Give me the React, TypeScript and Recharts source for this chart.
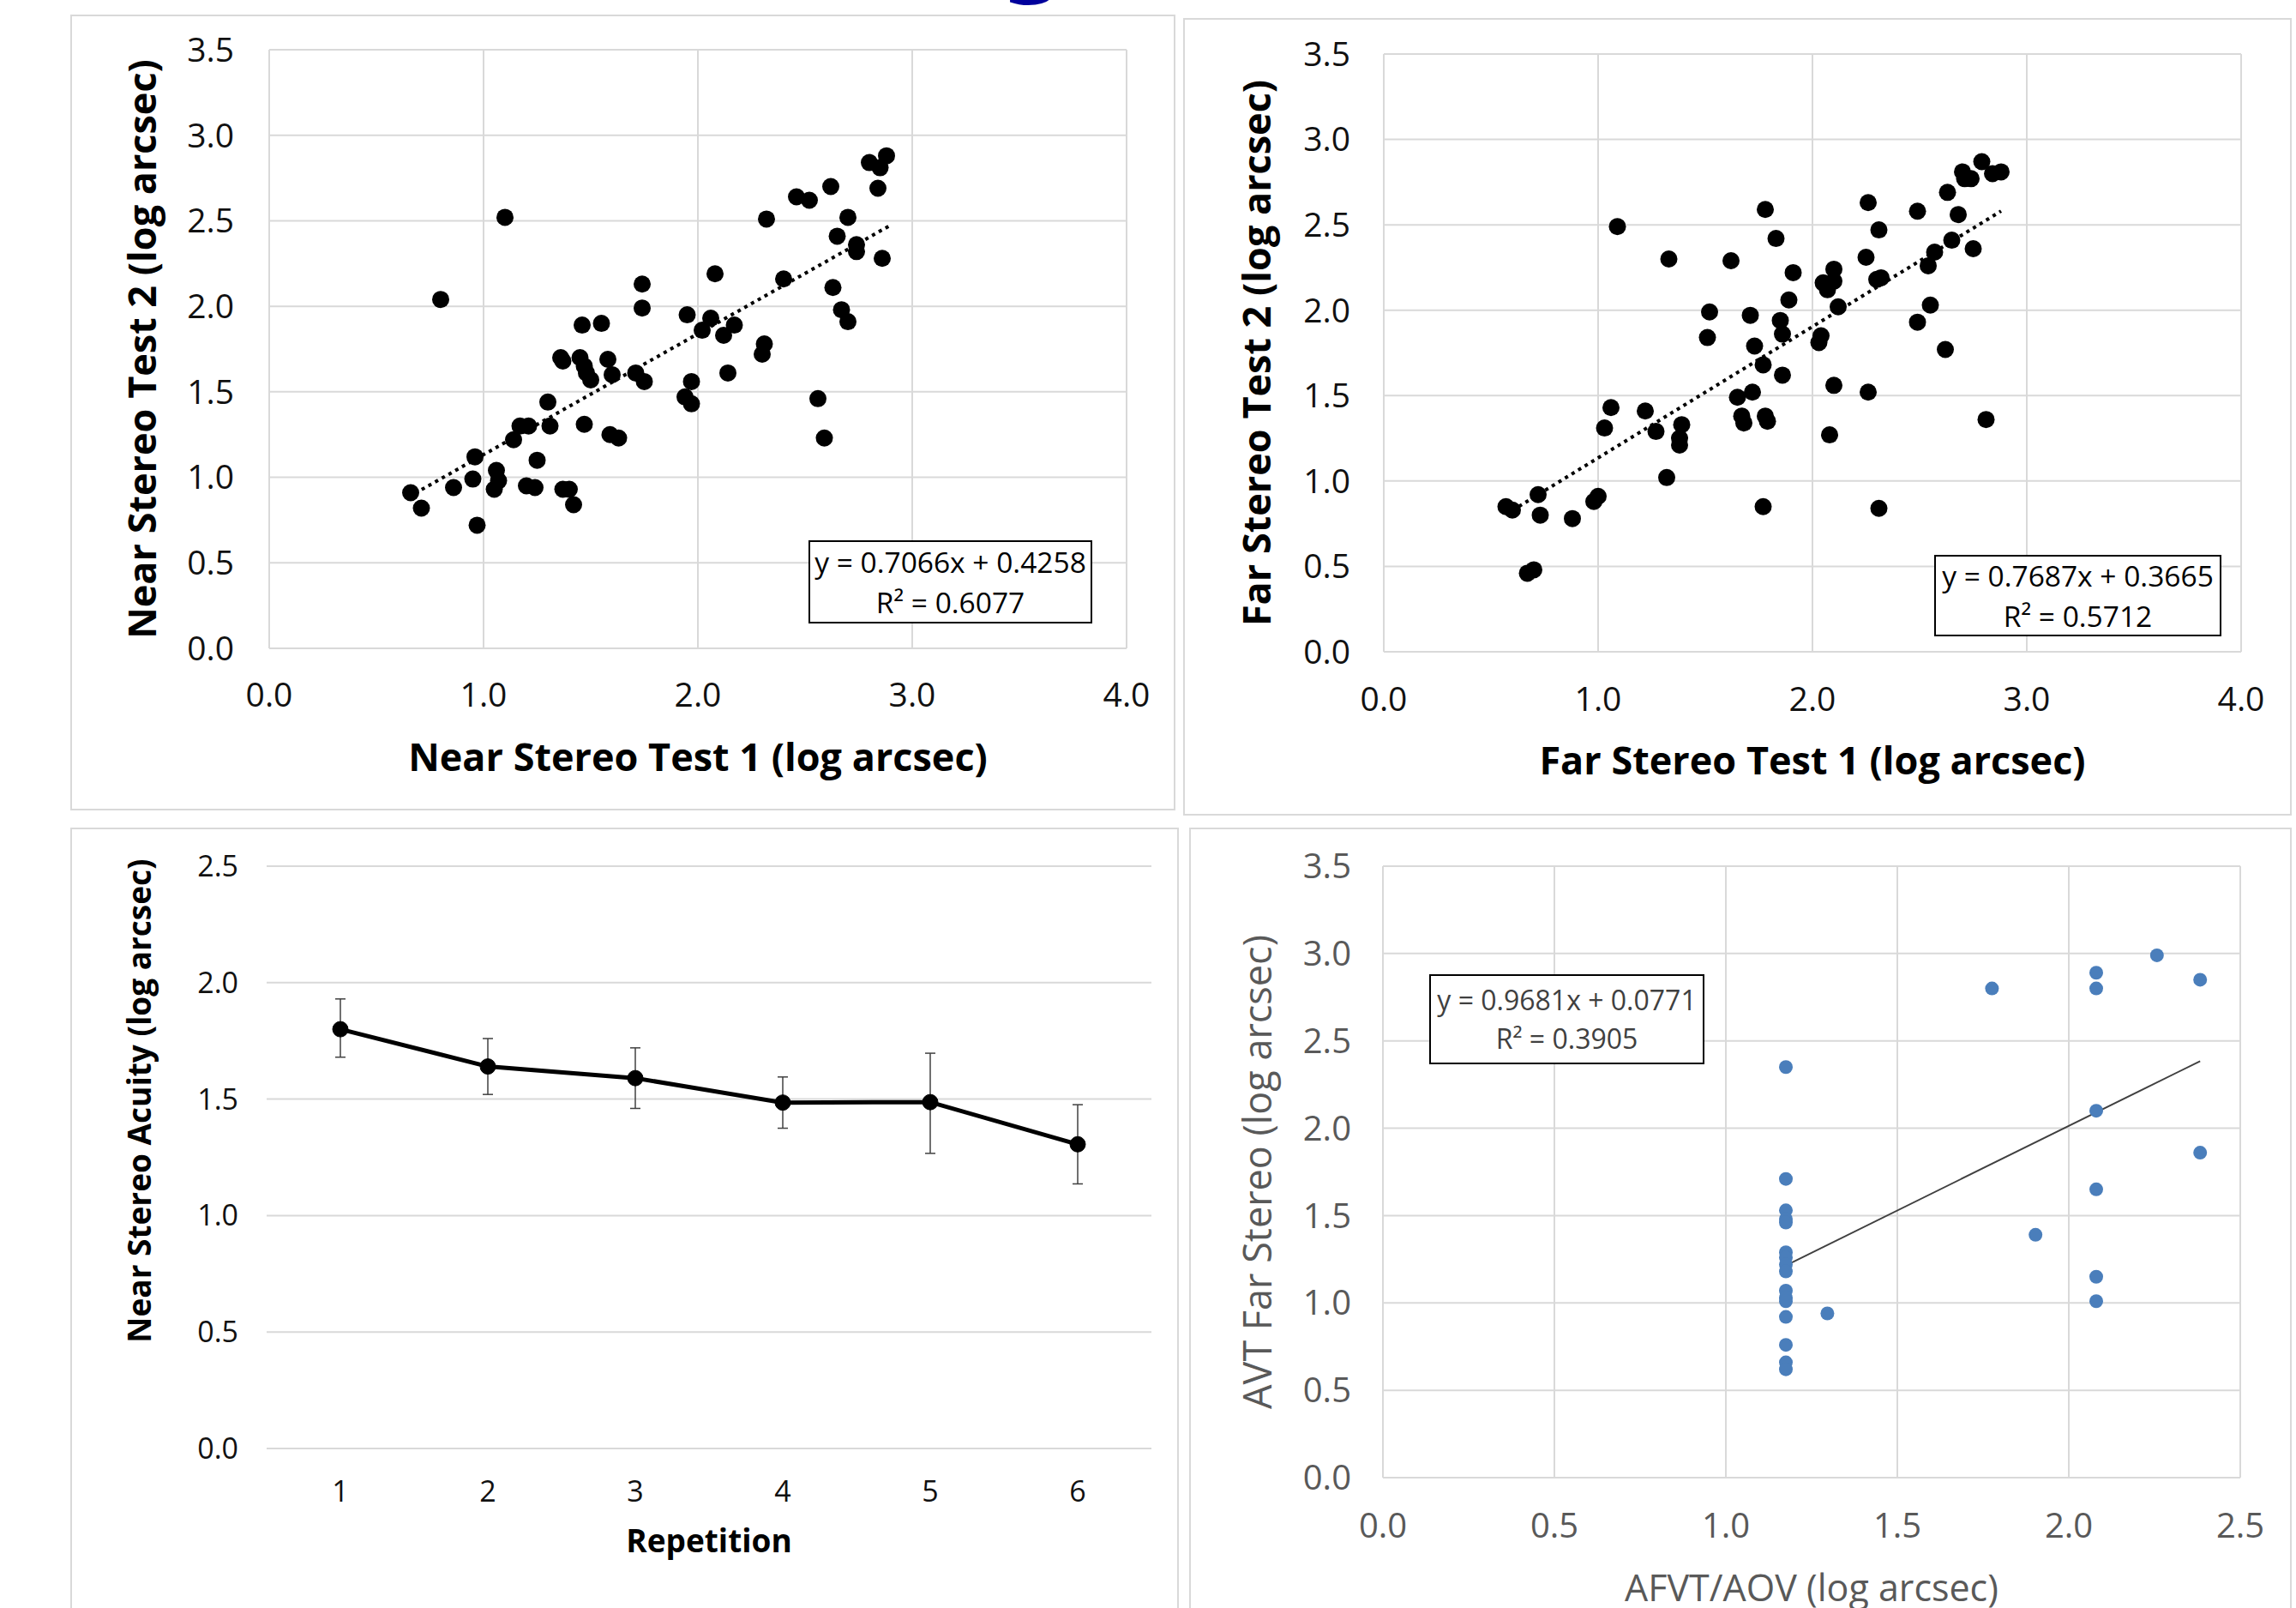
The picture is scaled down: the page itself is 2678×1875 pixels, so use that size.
import React from 'react';
import {
  ScatterChart, Scatter, LineChart, Line, XAxis, YAxis, CartesianGrid,
  ReferenceLine, ErrorBar, Label,
} from 'recharts';

const FONT = '"Open Sans", "DejaVu Sans", sans-serif';
const GRID = '#d9d9d9';

// Panel A: near stereo test-retest
const nearTest1 = [
  0.66, 0.71, 0.80, 0.86, 0.95, 0.96, 0.97, 1.06, 1.07, 1.05, 1.10, 1.14, 1.17, 1.21,
  1.20, 1.24, 1.25, 1.30, 1.31, 1.37, 1.40, 1.42, 1.36, 1.37, 1.45, 1.47, 1.48, 1.50,
  1.46, 1.55, 1.47, 1.58, 1.60, 1.59, 1.63, 1.71, 1.75, 1.74, 1.74, 1.95, 1.94, 1.97,
  1.97, 2.02, 2.06, 2.08, 2.12, 2.17, 2.14, 2.30, 2.31, 2.32, 2.40, 2.46, 2.52, 2.56,
  2.59, 2.62, 2.63, 2.65, 2.67, 2.70, 2.70, 2.74, 2.74, 2.80, 2.85, 2.88, 2.84, 2.86,
];
const nearTest2 = [
  0.91, 0.82, 2.04, 0.94, 0.99, 1.12, 0.72, 1.04, 0.98, 0.93, 2.52, 1.22, 1.30, 1.30,
  0.95, 0.94, 1.10, 1.44, 1.30, 0.93, 0.93, 0.84, 1.70, 1.68, 1.70, 1.65, 1.61, 1.57,
  1.89, 1.90, 1.31, 1.69, 1.60, 1.25, 1.23, 1.61, 1.56, 2.13, 1.99, 1.95, 1.47, 1.43,
  1.56, 1.86, 1.93, 2.19, 1.83, 1.89, 1.61, 1.72, 1.78, 2.51, 2.16, 2.64, 2.62, 1.46,
  1.23, 2.70, 2.11, 2.41, 1.98, 1.91, 2.52, 2.36, 2.32, 2.84, 2.81, 2.88, 2.69, 2.28,
];
const nearFit = [0.7066, 0.4258];
const nearFitRange = [0.68, 2.89];

// Panel B: far stereo test-retest
const farTest1 = [
  0.57, 0.60, 0.67, 0.70, 0.72, 0.73, 0.88, 0.98, 1.00, 1.03, 1.06, 1.09, 1.22, 1.27,
  1.32, 1.33, 1.39, 1.38, 1.38, 1.51, 1.52, 1.62, 1.65, 1.67, 1.68, 1.71, 1.72, 1.73,
  1.77, 1.77, 1.78, 1.79, 1.78, 1.83, 1.85, 1.86, 1.86, 1.89, 1.91, 2.03, 2.04, 2.05,
  2.07, 2.10, 2.10, 2.08, 2.10, 2.12, 2.25, 2.26, 2.26, 2.30, 2.32, 2.31, 2.31, 2.49,
  2.49, 2.54, 2.55, 2.57, 2.62, 2.63, 2.65, 2.68, 2.70, 2.71, 2.74, 2.75, 2.79, 2.81,
  2.84, 2.88,
];
const farTest2 = [
  0.85, 0.83, 0.46, 0.48, 0.92, 0.80, 0.78, 0.88, 0.91, 1.31, 1.43, 2.49, 1.41, 1.29,
  1.02, 2.30, 1.33, 1.25, 1.21, 1.84, 1.99, 2.29, 1.49, 1.38, 1.34, 1.97, 1.52, 1.79,
  1.68, 0.85, 1.38, 1.35, 2.59, 2.42, 1.94, 1.86, 1.62, 2.06, 2.22, 1.81, 1.85, 2.16,
  2.12, 2.17, 2.24, 1.27, 1.56, 2.02, 2.31, 2.63, 1.52, 2.18, 2.19, 2.47, 0.84, 1.93,
  2.58, 2.26, 2.03, 2.34, 1.77, 2.69, 2.41, 2.56, 2.81, 2.77, 2.77, 2.36, 2.87, 1.36,
  2.80, 2.81,
];
const farFit = [0.7687, 0.3665];
const farFitRange = [0.6, 2.88];

// Panel C: near stereo acuity by repetition
const repetitions = [1, 2, 3, 4, 5, 6];
const acuity = [1.80, 1.64, 1.59, 1.485, 1.487, 1.306];
const acuityErrLow = [0.12, 0.12, 0.13, 0.11, 0.22, 0.17];
const acuityErrHigh = [0.13, 0.12, 0.13, 0.11, 0.21, 0.17];

// Panel D: AVT far stereo vs AFVT/AOV
const afvt = [
  1.175, 1.175, 1.175, 1.175, 1.175, 1.175, 1.175, 1.175, 1.175, 1.175, 1.175, 1.175,
  1.175, 1.175, 1.175, 1.175, 1.296, 1.776, 1.903, 2.08, 2.08, 2.08, 2.08, 2.08, 2.08,
  2.257, 2.383, 2.383,
];
const avt = [
  2.35, 1.71, 1.53, 1.48, 1.46, 1.29, 1.26, 1.22, 1.18, 1.07, 1.03, 1.01, 0.92, 0.76,
  0.66, 0.62, 0.94, 2.80, 1.39, 2.89, 2.80, 2.10, 1.65, 1.15, 1.01, 2.99, 2.85, 1.86,
];
const avtFit = [0.9681, 0.0771];
const avtFitRange = [1.175, 2.383];

const ticks35 = [0, 0.5, 1, 1.5, 2, 2.5, 3, 3.5];
const ticks25 = [0, 0.5, 1, 1.5, 2, 2.5];
const ticks4 = [0, 1, 2, 3, 4];

const zip = (xs: number[], ys: number[]) => xs.map((x, i) => ({ x, y: ys[i] }));
const fitSegment = (fit: number[], range: number[]) =>
  range.map((x) => ({ x, y: fit[0] * x + fit[1] }));
const fmt1 = (v: number) => v.toFixed(1);

const dot = (r: number, fill: string) => (p: any) => (
  <circle cx={p.cx} cy={p.cy} r={r} fill={fill} />
);

const xTitle = (text: string, gap: number, size: number, color: string, weight: number) =>
  (props: any) => {
    const vb = props.viewBox || { x: 0, y: 0, width: 0, height: 0 };
    return (
      <text x={vb.x + vb.width / 2} y={vb.y + gap} textAnchor="middle" dominantBaseline="central"
        fontSize={size} fill={color} fontWeight={weight} fontFamily={FONT}>{text}</text>
    );
  };

const yTitle = (text: string, gap: number, shift: number, size: number, color: string, weight: number) =>
  (props: any) => {
    const vb = props.viewBox || { x: 0, y: 0, width: 0, height: 0 };
    const x = vb.x + vb.width - gap;
    const y = vb.y + vb.height / 2 + shift;
    return (
      <text transform={`translate(${x},${y}) rotate(-90)`} textAnchor="middle" dominantBaseline="central"
        fontSize={size} fill={color} fontWeight={weight} fontFamily={FONT}>{text}</text>
    );
  };

const abs = (left: number, top: number): React.CSSProperties => ({ position: 'absolute', left, top });

const panel = (left: number, top: number, width: number, height: number): React.CSSProperties => ({
  position: 'absolute', left, top, width, height, border: `2px solid ${GRID}`, boxSizing: 'border-box',
});

const eqBox = (left: number, top: number, width: number, height: number, size: number, color: string): React.CSSProperties => ({
  position: 'absolute', left, top, width, height, border: '2px solid #000', boxSizing: 'border-box',
  background: '#fff', display: 'flex', flexDirection: 'column', justifyContent: 'center',
  alignItems: 'center', fontFamily: FONT, fontSize: size, color, lineHeight: 1.4,
});

const tickStyle = (size: number, color: string) => ({ fontSize: size, fill: color, fontFamily: FONT });

const App: React.FC = () => {
  const nearData = zip(nearTest1, nearTest2);
  const farData = zip(farTest1, farTest2);
  const avtData = zip(afvt, avt);
  const repData = repetitions.map((rep, i) => ({
    rep,
    acuity: acuity[i],
    err: [acuityErrLow[i], acuityErrHigh[i]],
  }));

  return (
    <div style={{ position: 'absolute', left: 0, top: 0, width: 2678, height: 1875, overflow: 'hidden', background: '#fff' }}>
      <svg style={abs(1150, 0)} width={110} height={20}>
        <text x={55} y={-18} textAnchor="middle" fontSize={110} fontWeight={700} fill="#00009c" fontFamily='"DejaVu Sans", sans-serif'>g</text>
      </svg>

      <div style={panel(82, 17, 1289, 928)} />
      <div style={panel(1380, 21, 1293, 930)} />
      <div style={panel(82, 965, 1293, 940)} />
      <div style={panel(1387, 965, 1286, 940)} />

      {/* Near stereo test 1 vs test 2 */}
      <div style={abs(82, 17)}>
        <ScatterChart width={1289} height={928} margin={{ top: 41, right: 57, left: 0, bottom: 0 }}>
          <CartesianGrid stroke={GRID} strokeWidth={2} />
          <XAxis type="number" dataKey="x" domain={[0, 4]} ticks={ticks4} tickFormatter={fmt1} height={189}
            axisLine={false} tickLine={false} tickSize={0} tickMargin={40} tick={tickStyle(39, '#111')}>
            <Label content={xTitle('Near Stereo Test 1 (log arcsec)', 125, 45, '#000', 700)} />
          </XAxis>
          <YAxis type="number" dataKey="y" domain={[0, 3.5]} ticks={ticks35} tickFormatter={fmt1} width={232}
            axisLine={false} tickLine={false} tickSize={0} tickMargin={41} tick={tickStyle(39, '#111')}>
            <Label content={yTitle('Near Stereo Test 2 (log arcsec)', 150, 0, 45, '#000', 700)} />
          </YAxis>
          <ReferenceLine segment={fitSegment(nearFit, nearFitRange)} stroke="#000" strokeWidth={4} strokeDasharray="4 5" />
          <Scatter data={nearData} shape={dot(10, '#000')} isAnimationActive={false} />
        </ScatterChart>
      </div>
      <div style={eqBox(943, 630, 331, 97, 33.5, '#000')}>
        <div>y = 0.7066x + 0.4258</div>
        <div>R² = 0.6077</div>
      </div>

      {/* Far stereo test 1 vs test 2 */}
      <div style={abs(1380, 21)}>
        <ScatterChart width={1293} height={930} margin={{ top: 42, right: 59, left: 0, bottom: 0 }}>
          <CartesianGrid stroke={GRID} strokeWidth={2} />
          <XAxis type="number" dataKey="x" domain={[0, 4]} ticks={ticks4} tickFormatter={fmt1} height={191}
            axisLine={false} tickLine={false} tickSize={0} tickMargin={41} tick={tickStyle(39, '#111')}>
            <Label content={xTitle('Far Stereo Test 1 (log arcsec)', 125, 45, '#000', 700)} />
          </XAxis>
          <YAxis type="number" dataKey="y" domain={[0, 3.5]} ticks={ticks35} tickFormatter={fmt1} width={234}
            axisLine={false} tickLine={false} tickSize={0} tickMargin={39} tick={tickStyle(39, '#111')}>
            <Label content={yTitle('Far Stereo Test 2 (log arcsec)', 150, 0, 45, '#000', 700)} />
          </YAxis>
          <ReferenceLine segment={fitSegment(farFit, farFitRange)} stroke="#000" strokeWidth={4} strokeDasharray="4 5" />
          <Scatter data={farData} shape={dot(10, '#000')} isAnimationActive={false} />
        </ScatterChart>
      </div>
      <div style={eqBox(2256, 647, 335, 95, 33.5, '#000')}>
        <div>y = 0.7687x + 0.3665</div>
        <div>R² = 0.5712</div>
      </div>

      {/* Near stereo acuity over repetitions */}
      <div style={abs(82, 965)}>
        <LineChart data={repData} width={1293} height={910} margin={{ top: 45, right: 32, left: 0, bottom: 0 }}>
          <CartesianGrid stroke={GRID} strokeWidth={2} vertical={false} />
          <XAxis type="number" dataKey="rep" domain={[0.5, 6.5]} ticks={repetitions} height={186}
            axisLine={false} tickLine={false} tickSize={0} tickMargin={38} tick={tickStyle(34, '#111')}>
            <Label content={xTitle('Repetition', 106, 37, '#000', 700)} />
          </XAxis>
          <YAxis type="number" domain={[0, 2.5]} ticks={ticks25} tickFormatter={fmt1} width={229}
            axisLine={false} tickLine={false} tickSize={0} tickMargin={33} tick={tickStyle(34, '#111')}>
            <Label content={yTitle('Near Stereo Acuity (log arcsec)', 150, -66, 37, '#000', 700)} />
          </YAxis>
          <Line type="linear" dataKey="acuity" stroke="#000" strokeWidth={5}
            dot={{ r: 9, fill: '#000', stroke: '#000', strokeWidth: 1 }} isAnimationActive={false}>
            <ErrorBar dataKey="err" direction="y" width={6} stroke="#404040" strokeWidth={1.5} />
          </Line>
        </LineChart>
      </div>

      {/* AVT far stereo vs AFVT/AOV */}
      <div style={abs(1387, 965)}>
        <ScatterChart width={1286} height={910} margin={{ top: 45, right: 60, left: 0, bottom: 0 }}>
          <CartesianGrid stroke={GRID} strokeWidth={2} />
          <XAxis type="number" dataKey="x" domain={[0, 2.5]} ticks={ticks25} tickFormatter={fmt1} height={152}
            axisLine={false} tickLine={false} tickSize={0} tickMargin={42} tick={tickStyle(40, '#595959')}>
            <Label content={xTitle('AFVT/AOV (log arcsec)', 127, 43, '#595959', 400)} />
          </XAxis>
          <YAxis type="number" dataKey="y" domain={[0, 3.5]} ticks={ticks35} tickFormatter={fmt1} width={226}
            axisLine={false} tickLine={false} tickSize={0} tickMargin={37} tick={tickStyle(40, '#595959')}>
            <Label content={yTitle('AVT Far Stereo (log arcsec)', 148, 0, 45, '#595959', 400)} />
          </YAxis>
          <ReferenceLine segment={fitSegment(avtFit, avtFitRange)} stroke="#404040" strokeWidth={2} />
          <Scatter data={avtData} shape={dot(8, '#4a7ebb')} isAnimationActive={false} />
        </ScatterChart>
      </div>
      <div style={eqBox(1667, 1136, 321, 105, 32, '#404040')}>
        <div>y = 0.9681x + 0.0771</div>
        <div>R² = 0.3905</div>
      </div>
    </div>
  );
};

export default App;
